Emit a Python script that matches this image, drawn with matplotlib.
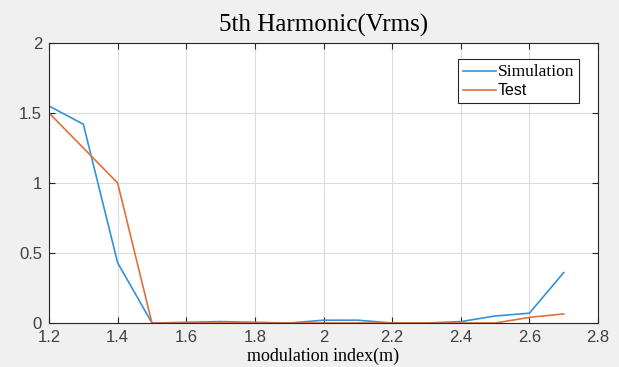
import matplotlib
matplotlib.use('Agg')
import matplotlib.pyplot as plt
from matplotlib.lines import Line2D

m = [1.2, 1.3, 1.4, 1.5, 1.6, 1.7, 1.8, 1.9, 2.0, 2.1, 2.2, 2.3, 2.4, 2.5, 2.6, 2.7]
simulation = [1.55, 1.42, 0.43, 0.0, 0.005, 0.01, 0.005, 0.0, 0.02, 0.02, 0.0, 0.0, 0.01, 0.05, 0.07, 0.36]
test = [1.5, 1.25, 1.0, 0.0, 0.0, 0.0, 0.0, 0.0, 0.0, 0.0, 0.0, 0.0, 0.0, 0.0, 0.04, 0.065]

blue = '#3393d6'
orange = '#e0703c'

fig = plt.figure(figsize=(6.19, 3.67), dpi=100, facecolor='#f0f0f0')
ax = fig.add_axes([0.0792, 0.1199, 0.8869, 0.7629])
ax.plot(m, simulation, color=blue, lw=1.2)
ax.plot(m, test, color=orange, lw=1.2)

ax.set_xlim(1.2, 2.8)
ax.set_ylim(0, 2)
ax.set_xticks([1.2, 1.4, 1.6, 1.8, 2.0, 2.2, 2.4, 2.6, 2.8])
ax.set_xticklabels(['1.2', '1.4', '1.6', '1.8', '2', '2.2', '2.4', '2.6', '2.8'])
ax.set_yticks([0, 0.5, 1, 1.5, 2])
ax.set_yticklabels(['0', '0.5', '1', '1.5', '2'])
ax.grid(True, color='#dcdcdc', lw=0.8)
ax.tick_params(direction='in', top=True, right=True, length=4, color='#262626',
               labelsize=12, labelcolor='#404040', pad=5)
for lab in ax.get_xticklabels() + ax.get_yticklabels():
    lab.set_family('Liberation Sans')
for s in ax.spines.values():
    s.set_color('#262626')
    s.set_linewidth(0.8)

ax.set_title('5th Harmonic(Vrms)', family='Liberation Serif', fontsize=18, pad=8)
ax.set_xlabel('modulation index(m)', family='Liberation Serif', fontsize=13, labelpad=2)

handles = [Line2D([], [], color=blue, lw=1.2), Line2D([], [], color=orange, lw=1.2)]
leg = ax.legend(handles, ['Simulation', 'Test'], loc='upper right',
                bbox_to_anchor=(0.965, 0.943), fancybox=False, framealpha=1,
                edgecolor='#262626', handlelength=2.4, handletextpad=0.1,
                borderpad=0.35, labelspacing=0.25, borderaxespad=0)
leg.get_frame().set_linewidth(0.8)
texts = leg.get_texts()
texts[0].set_family('Liberation Serif')
texts[0].set_fontsize(12.5)
texts[1].set_family('Liberation Sans')
texts[1].set_fontsize(11.5)

fig.savefig('out.png', dpi=100, facecolor=fig.get_facecolor())
